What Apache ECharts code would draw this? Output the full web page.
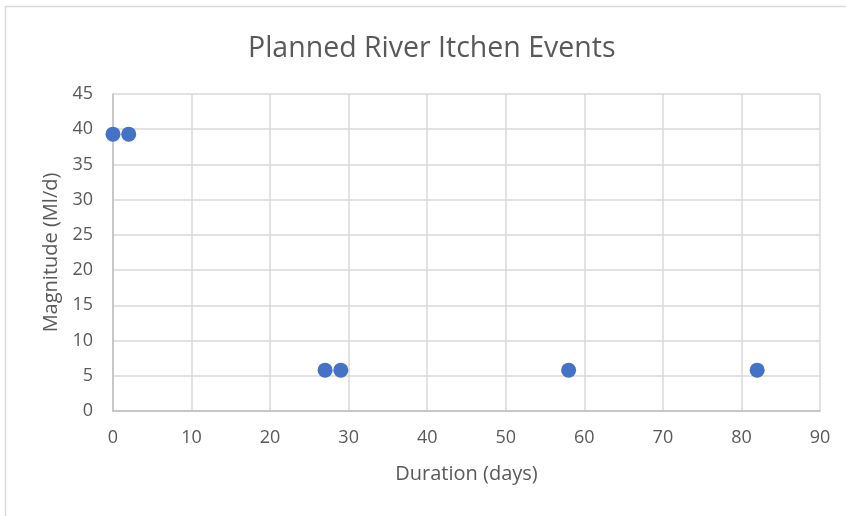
<!DOCTYPE html>
<html>
<head>
<meta charset="utf-8">
<script src="https://cdn.jsdelivr.net/npm/echarts@6/dist/echarts.min.js"></script>
<style>
  html, body { margin: 0; padding: 0; background: #fff; }
  #chart { width: 846px; height: 516px; }
</style>
</head>
<body>
<div id="chart"></div>
<script>
  // Planned events: duration (days) vs magnitude (Ml/d)
  const durations = [0, 2, 27, 29, 58, 82];
  const magnitudes = [39.3, 39.3, 5.8, 5.8, 5.8, 5.8];
  const xTicks = [0, 10, 20, 30, 40, 50, 60, 70, 80, 90];
  const yTicks = [0, 5, 10, 15, 20, 25, 30, 35, 40, 45];

  const textColor = '#595959';
  const font = '"Open Sans", "Liberation Sans", sans-serif';

  const chart = echarts.init(document.getElementById('chart'), null, { renderer: 'canvas' });

  chart.setOption({
    animation: false,
    backgroundColor: '#fff',
    graphic: [{
      type: 'rect',
      shape: { x: 5.5, y: 6.5, width: 900, height: 600 },
      style: { fill: 'none', stroke: '#d9d9d9', lineWidth: 1.5 },
      silent: true
    }],
    title: {
      text: 'Planned River Itchen Events',
      left: 243,
      top: 29,
      textStyle: { fontFamily: font, fontSize: 28.5, fontWeight: 'normal', color: textColor }
    },
    grid: { left: 113, right: 26, top: 94, bottom: 105 },
    xAxis: {
      type: 'value',
      min: xTicks[0],
      max: xTicks[xTicks.length - 1],
      interval: 10,
      name: 'Duration (days)',
      nameLocation: 'middle',
      nameGap: 53,
      nameTextStyle: { fontFamily: font, fontSize: 20, color: textColor },
      axisLine: { show: true, lineStyle: { color: '#bfbfbf', width: 1.5 } },
      axisTick: { show: false },
      axisLabel: { fontFamily: font, fontSize: 18, color: textColor, margin: 18 },
      splitLine: { show: true, lineStyle: { color: '#d9d9d9', width: 1.5 } }
    },
    yAxis: {
      type: 'value',
      min: yTicks[0],
      max: yTicks[yTicks.length - 1],
      interval: 5,
      name: 'Magnitude (Ml/d)',
      nameLocation: 'middle',
      nameGap: 49,
      nameTextStyle: { fontFamily: font, fontSize: 20, color: textColor },
      axisLine: { show: true, lineStyle: { color: '#bfbfbf', width: 1.5 } },
      axisTick: { show: false },
      axisLabel: { fontFamily: font, fontSize: 18, color: textColor, margin: 20 },
      splitLine: { show: true, lineStyle: { color: '#d9d9d9', width: 1.5 } }
    },
    series: [{
      type: 'scatter',
      data: durations.map((d, i) => [d, magnitudes[i]]),
      symbolSize: 15,
      itemStyle: { color: '#4472C4', opacity: 1 }
    }]
  });
</script>
</body>
</html>
